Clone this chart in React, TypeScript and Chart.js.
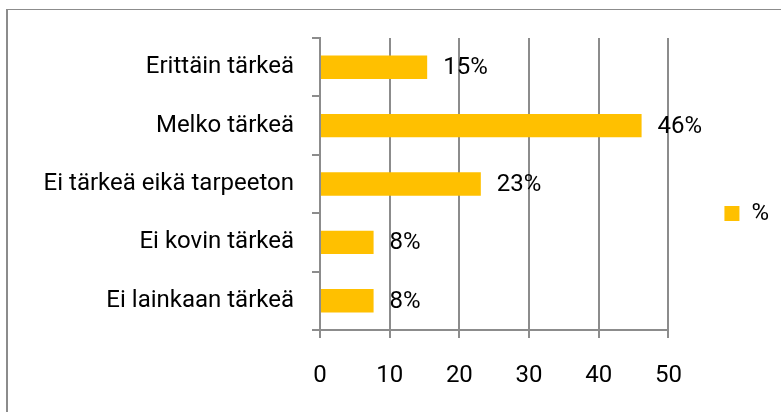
import React, { useEffect, useRef } from "react";
import { Chart, registerables } from "chart.js";

Chart.register(...registerables);

const categories = [
  "Erittäin tärkeä",
  "Melko tärkeä",
  "Ei tärkeä eikä tarpeeton",
  "Ei kovin tärkeä",
  "Ei lainkaan tärkeä",
];
const seriesName = "%";
const values = [15.38, 46.15, 23.08, 7.69, 7.69];
const xTicks = [0, 10, 20, 30, 40, 50];

const FONT = "Roboto, 'Open Sans', sans-serif";
const GRID = "#8c8c8c";

const dataLabels = {
  id: "dataLabels",
  afterDatasetsDraw(chart: any) {
    const ctx = chart.ctx;
    const meta = chart.getDatasetMeta(0);
    ctx.save();
    ctx.font = `24px ${FONT}`;
    ctx.fillStyle = "#000";
    ctx.textAlign = "left";
    ctx.textBaseline = "middle";
    meta.data.forEach((el: any, i: number) => {
      const v = chart.data.datasets[0].data[i] as number;
      ctx.fillText(`${Math.round(v)}%`, el.x + 16, el.y + 1);
    });
    ctx.restore();
  },
};

export default function App() {
  const ref = useRef<HTMLCanvasElement>(null);
  useEffect(() => {
    if (!ref.current) return;
    Chart.defaults.color = "#000";
    const chart = new Chart(ref.current, {
      type: "bar",
      data: {
        labels: categories,
        datasets: [
          {
            label: seriesName,
            data: values,
            backgroundColor: "#FFC000",
            borderWidth: 0,
            barPercentage: 0.4,
            categoryPercentage: 1,
          },
        ],
      },
      options: {
        indexAxis: "y",
        responsive: false,
        animation: false,
        layout: { padding: { left: 0, right: 2, top: 38, bottom: 23 } },
        plugins: {
          tooltip: { enabled: false },
          legend: {
            position: "right",
            labels: {
              boxWidth: 15,
              boxHeight: 15,
              padding: 56,
              color: "#000",
              font: { family: FONT, size: 24 },
            },
          },
        },
        scales: {
          x: {
            min: 0,
            max: 50,
            afterBuildTicks: (s: any) => {
              s.ticks = xTicks.map((v) => ({ value: v }));
            },
            afterFit: (s: any) => {
              s.height = 59;
            },
            ticks: {
              padding: 24,
              color: "#000",
              font: { family: FONT, size: 24 },
            },
            grid: {
              color: GRID,
              lineWidth: 2,
              tickLength: 8,
              drawOnChartArea: true,
            },
            border: { color: GRID, width: 2 },
          },
          y: {
            afterFit: (s: any) => {
              s.width = 320;
            },
            ticks: {
              padding: 18,
              color: "#000",
              font: { family: FONT, size: 24 },
            },
            grid: {
              color: GRID,
              lineWidth: 2,
              tickLength: 8,
              drawOnChartArea: false,
              offset: true,
            },
            border: { color: GRID, width: 2 },
          },
        },
      },
      plugins: [dataLabels],
    });
    return () => chart.destroy();
  }, []);

  return (
    <div
      style={{
        position: "fixed",
        left: 0,
        top: 0,
        width: 781,
        height: 412,
        overflow: "hidden",
        background: "#fff",
      }}
    >
      <div
        style={{
          position: "absolute",
          left: 6,
          top: 9,
          width: 900,
          height: 600,
          borderLeft: "2px solid #8c8c8c",
          borderTop: "1px solid #8c8c8c",
        }}
      />
      <canvas
        ref={ref}
        width={781}
        height={412}
        style={{ position: "absolute", left: 0, top: 0, display: "block" }}
      />
    </div>
  );
}
